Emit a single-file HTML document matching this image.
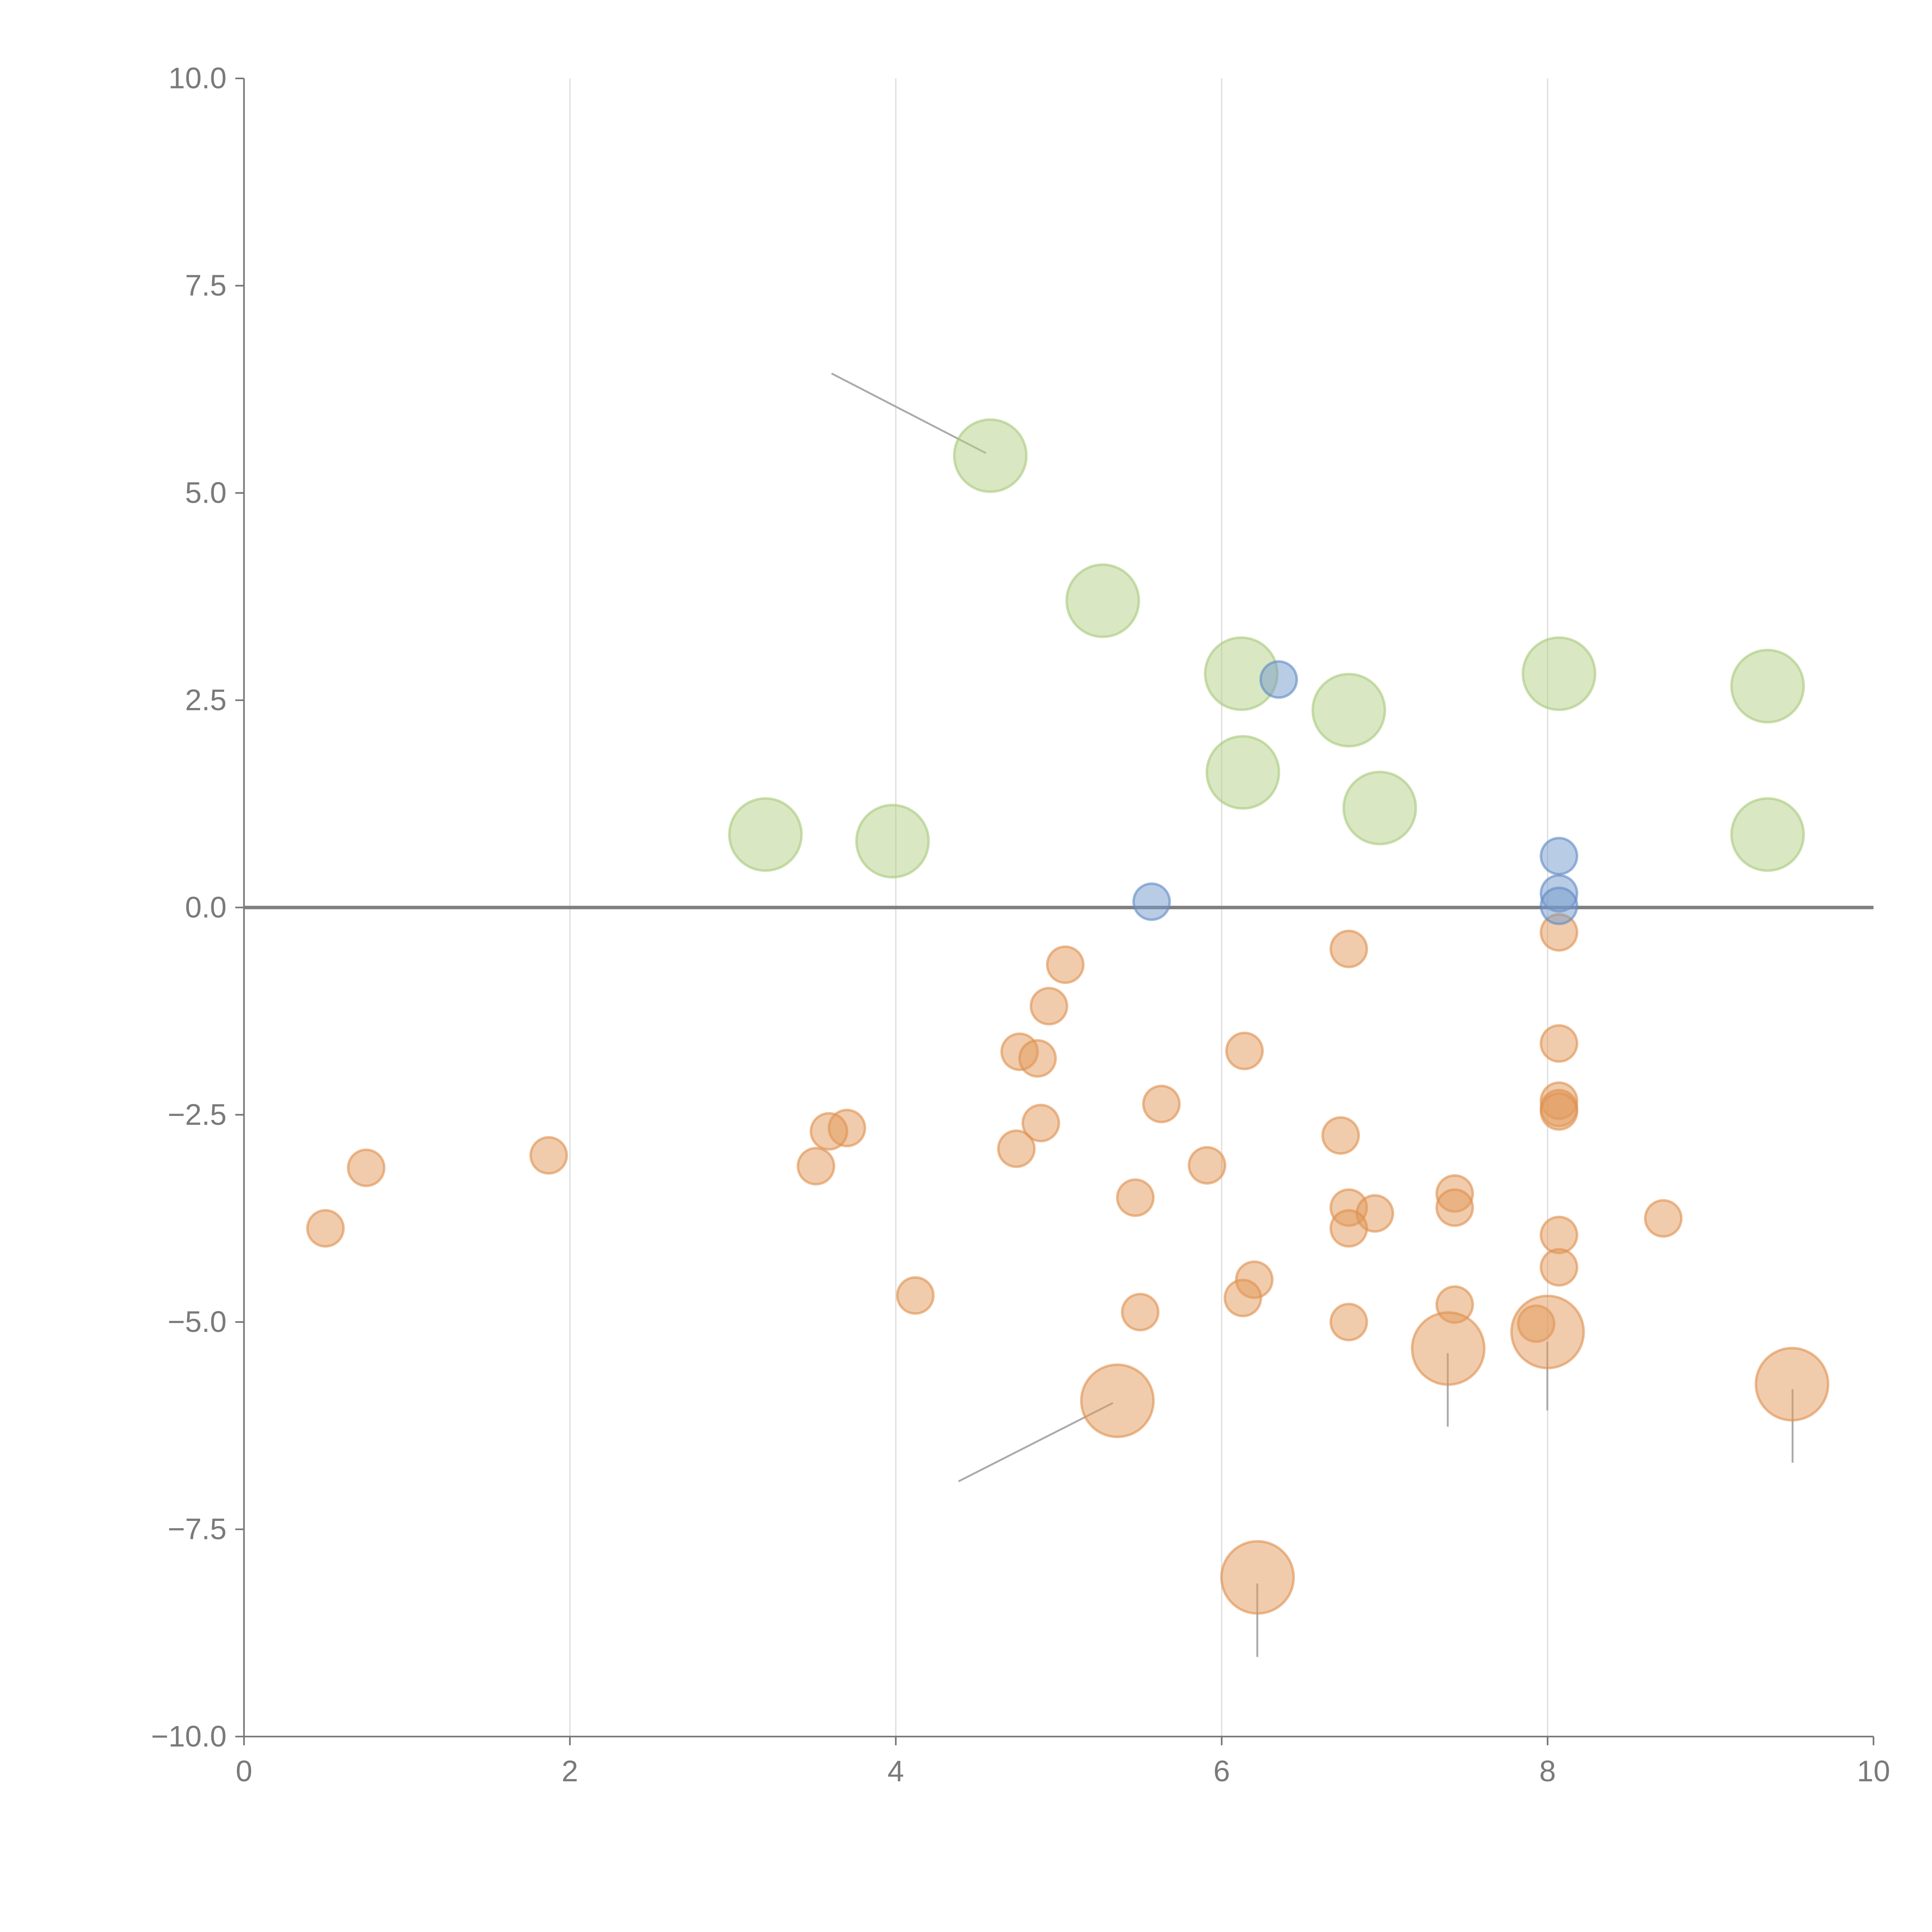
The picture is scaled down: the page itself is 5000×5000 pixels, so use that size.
<!DOCTYPE html>
<html><head><meta charset="utf-8"><style>
html,body{margin:0;padding:0;background:#fff;}
svg{display:block;}
text{font-family:"Liberation Sans",sans-serif;fill:#7a7a7a;font-size:24px;}
</style></head><body>
<svg id="chart" width="5000" height="5000" viewBox="0 0 1552 1552" xmlns="http://www.w3.org/2000/svg">
<g id="grid"></g>
<g id="axes"></g>
<g id="annos"></g>
<g id="marks"></g>
</svg>
<script>
const xTicks=[0,2,4,6,8,10];
const yTicks=[-10,-7.5,-5,-2.5,0,2.5,5,7.5,10];
const yTickLabels=["\u221210.0","\u22127.5","\u22125.0","\u22122.5","0.0","2.5","5.0","7.5","10.0"];
const greenX=[4.58,5.27,6.12,6.78,8.07,9.35,6.13,6.97,3.2,3.98,9.35];
const greenY=[5.45,3.7,2.82,2.38,2.82,2.67,1.63,1.2,0.88,0.8,0.88];
const blueX=[6.35,5.57,8.07,8.07,8.07];
const blueY=[2.75,0.07,0.62,0.17,0.02];
const orangeX=[5.04,4.94,4.76,4.87,6.14,6.78,8.07,8.07,8.07,8.07,8.07,5.63,4.89,4.74,3.7,3.59,3.51,1.87,0.75,0.5,5.91,6.73,5.47,6.78,6.94,6.78,7.43,7.43,8.71,8.07,8.07,6.2,6.13,4.12,5.5,7.43,6.78,7.93];
const orangeY=[-0.69,-1.19,-1.74,-1.82,-1.73,-0.5,-0.3,-1.64,-2.33,-2.42,-2.46,-2.37,-2.6,-2.91,-2.66,-2.7,-3.12,-2.99,-3.14,-3.87,-3.11,-2.75,-3.5,-3.62,-3.69,-3.87,-3.45,-3.62,-3.75,-3.95,-4.34,-4.49,-4.71,-4.68,-4.88,-4.79,-5.0,-5.02];
const bigOrangeX=[5.36,7.39,8.0,9.5,6.22];
const bigOrangeY=[-5.95,-5.32,-5.12,-5.75,-8.08];

const X0=196,X1=1505,Y0=1395,Y1=63;
const sx=v=>X0+(v-0)/(10-0)*(X1-X0);
const sy=v=>Y0-(v+10)/20*(Y0-Y1);
const NS="http://www.w3.org/2000/svg";
function mk(tag,attrs,parent){const e=document.createElementNS(NS,tag);for(const k in attrs)e.setAttribute(k,attrs[k]);parent.appendChild(e);return e;}
const grid=document.getElementById('grid'),axes=document.getElementById('axes'),annos=document.getElementById('annos'),marks=document.getElementById('marks');

xTicks.forEach((t,i)=>{
  if(t>0&&t<10){const g=mk('line',{x1:sx(t),x2:sx(t),y1:Y1,y2:Y0,stroke:'#ddd','stroke-width':1},grid);
  
  }
  const tk=mk('line',{x1:sx(t),x2:sx(t),y1:Y0,y2:Y0+7,stroke:'#777','stroke-width':1.3},axes);
  
  
  const tx=mk('text',{x:sx(t),y:Y0+36,'text-anchor':'middle'},axes);tx.textContent=t;
  
  
});
yTicks.forEach((t,i)=>{
  const tk=mk('line',{x1:X0-7,x2:X0,y1:sy(t),y2:sy(t),stroke:'#777','stroke-width':1.3},axes);
  
  
  const tx=mk('text',{x:X0-14,y:sy(t)+8,'text-anchor':'end'},axes);tx.textContent=yTickLabels[i];
  
  
});
const ya=mk('line',{x1:X0,x2:X0,y1:Y1,y2:Y0,stroke:'#777','stroke-width':1.3},axes);


const xa=mk('line',{x1:X0,x2:X1,y1:Y0,y2:Y0,stroke:'#777','stroke-width':1.3},axes);


const zl=mk('line',{x1:X0,x2:X1,y1:sy(0),y2:sy(0),stroke:'#808080','stroke-width':2.8},axes);



const an=[[668,300,792,364],[770,1190,894,1127],[1163,1087,1163,1146],[1243,1078,1243,1133],[1440,1116,1440,1175],[1010,1272,1010,1331]];
an.forEach(a=>{const l=mk('line',{x1:a[0],y1:a[1],x2:a[2],y2:a[3],stroke:'#aaa','stroke-width':1.5},annos);

});

function draw(xs,ys,r,fill,stroke,name){
  xs.forEach((x,i)=>{
    const c=mk('circle',{cx:sx(x),cy:sy(ys[i]),r:r,fill:fill,'fill-opacity':0.5,stroke:stroke,'stroke-opacity':0.6,'stroke-width':2},marks);
    
    
  });
}
draw(greenX,greenY,29,'#b3cf86','#a9c97c','green-bubble');
draw(orangeX,orangeY,14.5,'#e29a5c','#e08f4c','orange-bubble');
draw(bigOrangeX,bigOrangeY,29,'#e29a5c','#e08f4c','large-orange-bubble');
draw(blueX,blueY,14.5,'#7399cc','#5f88c4','blue-bubble');
</script>
</body></html>
